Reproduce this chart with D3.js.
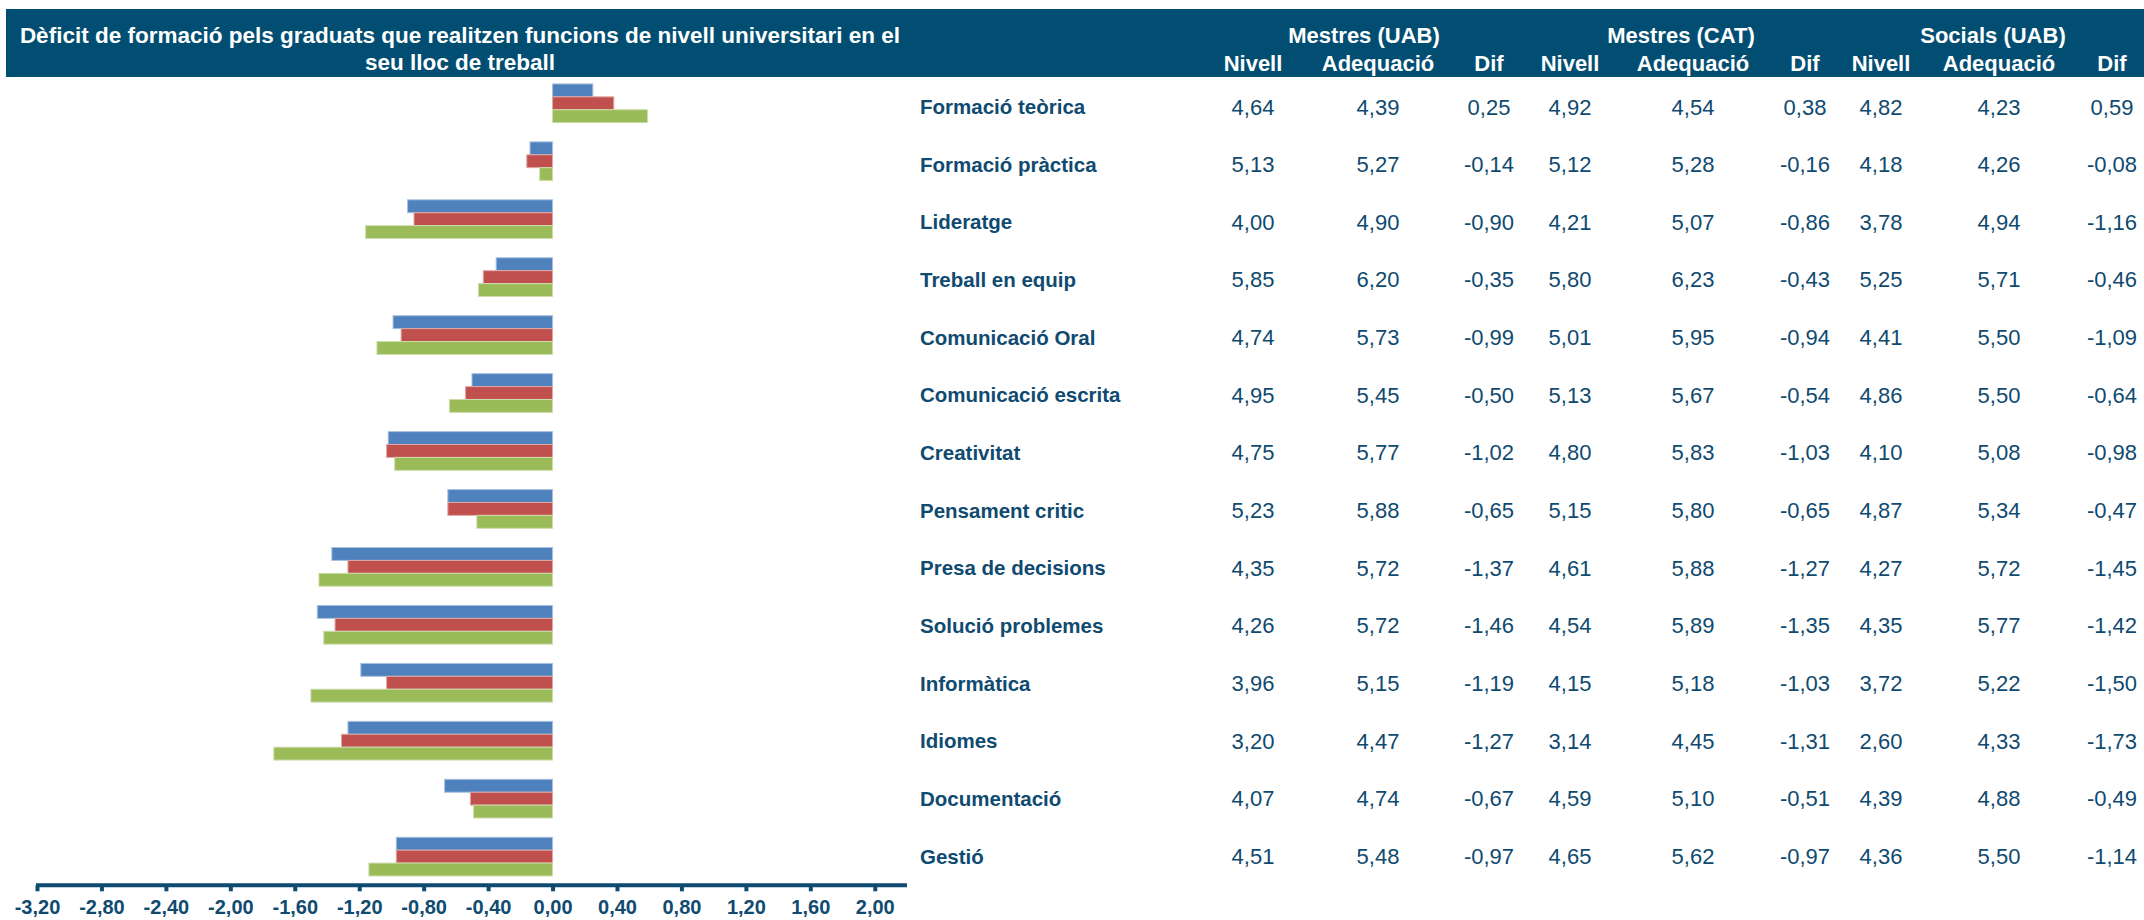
<!DOCTYPE html>
<html>
<head>
<meta charset="utf-8">
<script src="https://cdn.jsdelivr.net/npm/d3@7"></script>
<style>
  html, body { margin: 0; padding: 0; background: #fff; }
  svg { display: block; font-family: "Liberation Sans", Arial, sans-serif; }
</style>
</head>
<body>
<svg id="chart" width="2144" height="920"></svg>
<script>
// ---------- DATA ----------
const categories = ["Formació teòrica","Formació pràctica","Lideratge","Treball en equip","Comunicació Oral","Comunicació escrita","Creativitat","Pensament critic","Presa de decisions","Solució problemes","Informàtica","Idiomes","Documentació","Gestió"];

const groups = ["Mestres (UAB)", "Mestres (CAT)", "Socials (UAB)"];
const subHeaders = ["Nivell", "Adequació", "Dif"];

const mestresUAB_nivell = [4.64,5.13,4.00,5.85,4.74,4.95,4.75,5.23,4.35,4.26,3.96,3.20,4.07,4.51];
const mestresUAB_adeq   = [4.39,5.27,4.90,6.20,5.73,5.45,5.77,5.88,5.72,5.72,5.15,4.47,4.74,5.48];
const mestresUAB_dif    = [0.25,-0.14,-0.90,-0.35,-0.99,-0.50,-1.02,-0.65,-1.37,-1.46,-1.19,-1.27,-0.67,-0.97];

const mestresCAT_nivell = [4.92,5.12,4.21,5.80,5.01,5.13,4.80,5.15,4.61,4.54,4.15,3.14,4.59,4.65];
const mestresCAT_adeq   = [4.54,5.28,5.07,6.23,5.95,5.67,5.83,5.80,5.88,5.89,5.18,4.45,5.10,5.62];
const mestresCAT_dif    = [0.38,-0.16,-0.86,-0.43,-0.94,-0.54,-1.03,-0.65,-1.27,-1.35,-1.03,-1.31,-0.51,-0.97];

const socials_nivell = [4.82,4.18,3.78,5.25,4.41,4.86,4.10,4.87,4.27,4.35,3.72,2.60,4.39,4.36];
const socials_adeq   = [4.23,4.26,4.94,5.71,5.50,5.50,5.08,5.34,5.72,5.77,5.22,4.33,4.88,5.50];
const socials_dif    = [0.59,-0.08,-1.16,-0.46,-1.09,-0.64,-0.98,-0.47,-1.45,-1.42,-1.50,-1.73,-0.49,-1.14];

const xTicks = [-3.2,-2.8,-2.4,-2.0,-1.6,-1.2,-0.8,-0.4,0.0,0.4,0.8,1.2,1.6,2.0];
const xDomain = [-3.2, 2.2];

const titleLines = ["Dèficit de formació pels graduats que realitzen funcions de nivell universitari en el", "seu lloc de treball"];

// ---------- STYLE / LAYOUT ----------
const barColors = ["#4F81BD", "#C0504D", "#9BBB59"];
const barStroke = ["#A7C0E0", "#DFA8A6", "#CDDDAC"];
const dark = "#0F4A70";
const bandColor = "#024E73";

const locale = d3.formatLocale({decimal: ",", thousands: ".", grouping: [3], currency: ["", "€"], minus: "-"});
const fmt = locale.format(".2f");

const svg = d3.select("#chart");

// header band
svg.append("rect").attr("x", 6).attr("y", 9).attr("width", 2144 - 6).attr("height", 68).attr("fill", bandColor);

svg.append("g").selectAll("text").data(titleLines).join("text")
  .attr("x", 460).attr("y", (d, i) => 43 + i * 27)
  .attr("text-anchor", "middle").attr("fill", "#fff")
  .attr("font-weight", "bold").attr("font-size", 22.5).text(d => d);

// table columns
const colCenters = [1253, 1378, 1489, 1570, 1693, 1805, 1881, 1999, 2112];
const groupCenters = [1364, 1681, 1993];

svg.append("g").selectAll("text").data(groups).join("text")
  .attr("x", (d, i) => groupCenters[i]).attr("y", 43)
  .attr("text-anchor", "middle").attr("fill", "#fff")
  .attr("font-weight", "bold").attr("font-size", 22).text(d => d);

const subAll = groups.flatMap(() => subHeaders);
svg.append("g").selectAll("text").data(subAll).join("text")
  .attr("x", (d, i) => colCenters[i]).attr("y", 71)
  .attr("text-anchor", "middle").attr("fill", "#fff")
  .attr("font-weight", "bold").attr("font-size", 22).text(d => d);

// scales
const x = d3.scaleLinear().domain(xDomain).range([37, 907]);
const y = d3.scaleBand().domain(categories).range([74.3, 885.6]).paddingInner(0.332).paddingOuter(0.166);
const seriesIdx = [0, 1, 2];
const ySub = d3.scaleBand().domain(seriesIdx).range([0, y.bandwidth()]);
const yRow = d3.scalePoint().domain(categories).range([114, 863.5]);

const difSeries = [mestresUAB_dif, mestresCAT_dif, socials_dif];

const gBars = svg.append("g");
categories.forEach((c, ci) => {
  gBars.selectAll(null).data(seriesIdx).join("rect")
    .attr("x", s => Math.min(x(0), x(difSeries[s][ci])))
    .attr("y", s => y(c) + ySub(s))
    .attr("width", s => Math.abs(x(difSeries[s][ci]) - x(0)))
    .attr("height", ySub.bandwidth())
    .attr("fill", s => barColors[s])
    .attr("stroke", s => barStroke[s])
    .attr("stroke-width", 1);
});

// axis
const axisY = 885.3;
const gAxis = svg.append("g").attr("transform", `translate(0,${axisY})`)
  .call(d3.axisBottom(x).tickValues(xTicks).tickFormat(d => fmt(d)).tickSize(6).tickPadding(9));
gAxis.select(".domain").remove();
gAxis.append("line").attr("x1", x.range()[0] - 1).attr("x2", x.range()[1]).attr("y1", 0).attr("y2", 0)
  .attr("stroke", dark).attr("stroke-width", 4);
gAxis.selectAll(".tick line").attr("stroke", dark).attr("stroke-width", 4);
gAxis.selectAll(".tick text").attr("fill", dark).attr("font-size", 20).attr("font-weight", "bold")
  .attr("font-family", "'Liberation Sans', Arial, sans-serif");

// table rows
const tableCols = [mestresUAB_nivell, mestresUAB_adeq, mestresUAB_dif,
                   mestresCAT_nivell, mestresCAT_adeq, mestresCAT_dif,
                   socials_nivell, socials_adeq, socials_dif];

svg.append("g").selectAll("text").data(categories).join("text")
  .attr("x", 920).attr("y", c => yRow(c))
  .attr("fill", dark).attr("font-weight", "bold").attr("font-size", 20.5).text(c => c);

const gNums = svg.append("g");
tableCols.forEach((col, k) => {
  gNums.selectAll(null).data(categories).join("text")
    .attr("x", colCenters[k]).attr("y", c => yRow(c) + 0.5)
    .attr("text-anchor", "middle").attr("fill", dark).attr("font-size", 22)
    .text((c, i) => fmt(col[i]));
});
</script>
</body>
</html>
